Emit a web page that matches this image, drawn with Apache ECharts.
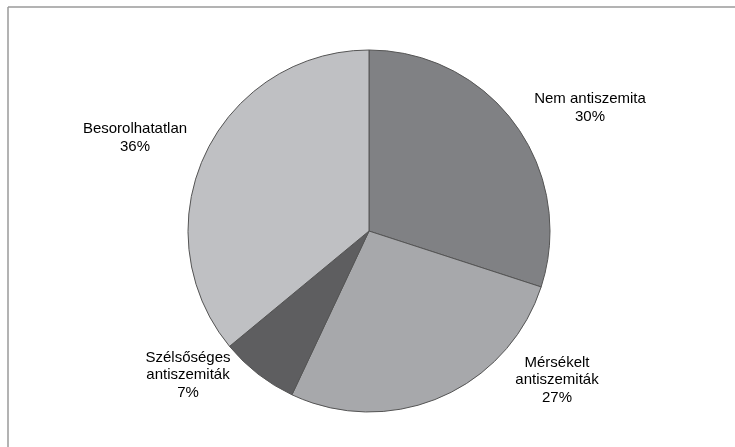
<!DOCTYPE html>
<html>
<head>
<meta charset="utf-8">
<script src="https://cdn.jsdelivr.net/npm/echarts@6/dist/echarts.min.js"></script>
<style>
  html, body { margin: 0; padding: 0; background: #fff; }
  #main { width: 735px; height: 447px; }
</style>
</head>
<body>
<div id="main"></div>
<script>
// data
const categories = ['Nem antiszemita', 'Mérsékelt antiszemiták', 'Szélsőséges antiszemiták', 'Besorolhatatlan']
const labelNames = ['Nem antiszemita', 'Mérsékelt\nantiszemiták', 'Szélsőséges\nantiszemiták', 'Besorolhatatlan']
const values = [30, 27, 7, 36]
const colors = ['#808184', '#a7a8ab', '#5e5e60', '#bfc0c3']

// where the text of each label sits (centre of the block)
const labelX = [590, 557, 188, 135]
const labelY = [108, 380, 375, 138]

const chart = echarts.init(document.getElementById('main'), null, { renderer: 'canvas' })

const option = {
  backgroundColor: '#fff',
  animation: false,
  graphic: [
    { type: 'line', shape: { x1: 8, y1: 7, x2: 735, y2: 7 }, style: { stroke: '#9a9a9a', lineWidth: 1.5 } },
    { type: 'line', shape: { x1: 8, y1: 7, x2: 8, y2: 447 }, style: { stroke: '#9a9a9a', lineWidth: 1.5 } }
  ],
  series: [
    {
      type: 'pie',
      center: [369, 231],
      radius: 181,
      startAngle: 90,
      clockwise: true,
      silent: true,
      itemStyle: {
        borderColor: '#555',
        borderWidth: 1
      },
      label: {
        show: true,
        position: 'outside',
        color: '#000',
        fontFamily: 'Liberation Sans, Arial, sans-serif',
        fontSize: 15,
        lineHeight: 17.5,
        align: 'center',
        formatter: p => labelNames[p.dataIndex] + '\n' + p.value + '%'
      },
      labelLine: { show: false },
      labelLayout: p => ({
        x: labelX[p.dataIndex],
        y: labelY[p.dataIndex],
        align: 'center',
        verticalAlign: 'middle'
      }),
      data: categories.map((name, i) => ({
        name: name,
        value: values[i],
        itemStyle: { color: colors[i] }
      }))
    }
  ]
}

chart.setOption(option)
</script>
</body>
</html>
